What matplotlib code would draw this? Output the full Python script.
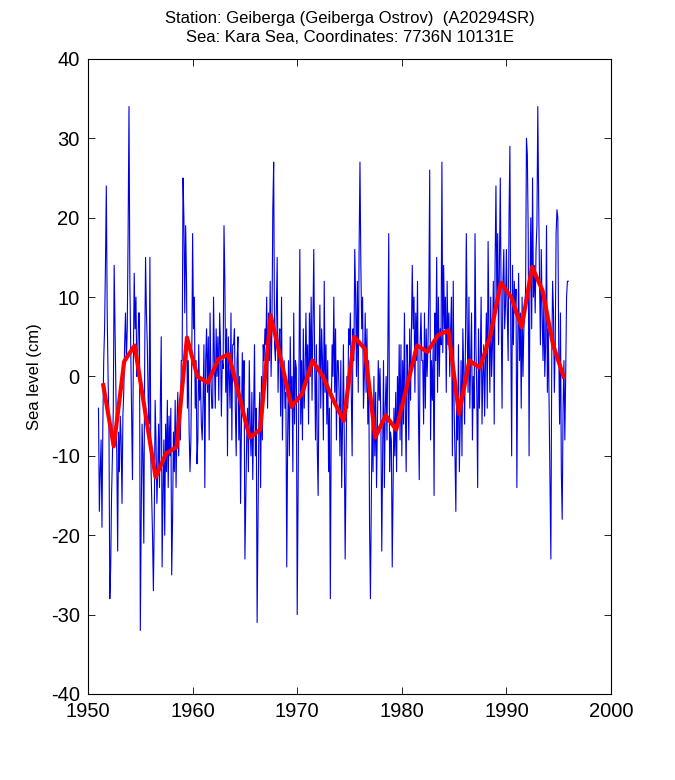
import numpy as np
import matplotlib
matplotlib.use("agg")
from matplotlib import pyplot as plt

plt.rcParams["font.family"] = ["Liberation Sans", "DejaVu Sans"]
plt.rcParams["axes.unicode_minus"] = False

BLUE = "#0000E6"
RED = "#FF0000"

TITLE = "Station: Geiberga (Geiberga Ostrov)  (A20294SR)\nSea: Kara Sea, Coordinates: 7736N 10131E"

years = list(range(1951, 1996))

# monthly sea level (cm), one row per year, Jan..Dec
monthly = [
    [-4, -17, -12, -8, -19, -6, 2, 6, 14, 24, 8, 0],            # 1951
    [-6, -28, -24, -15, -10, -4, 14, 6, -2, -10, -22, -7],      # 1952
    [-12, -5, -8, -16, -5, -2, 4, 8, 2, 6, 18, 34],             # 1953
    [12, 4, -4, -13, 2, 13, 6, 10, 0, 2, 8, 8],                 # 1954
    [-32, -18, -6, -10, -21, 2, 15, 8, 4, -3, -6, 15],          # 1955
    [-10, -15, -20, -27, -18, -3, -8, -16, -12, -6, -14, -3],   # 1956
    [5, -24, -15, -8, -20, -6, -12, -3, -14, -5, -10, -4],      # 1957
    [-25, -18, -7, -12, -3, -14, -6, -2, -10, -4, -8, 2],       # 1958
    [2, 25, 20, 8, 19, 12, -4, 2, -7, -12, -8, 2],              # 1959
    [18, 6, 10, -4, 2, -11, -8, 4, -3, 0, -6, -8],              # 1960
    [-3, 4, -14, 2, 6, -2, 5, -8, 8, 0, -4, -4],                # 1961
    [10, 2, -4, 6, 0, 5, -3, 8, 4, -5, 2, 1],                   # 1962
    [19, 12, -2, 6, -10, 5, 0, -4, 8, -8, 4, 4],                # 1963
    [6, -4, -10, 2, 5, -8, 0, -16, -6, 3, -4, 2],               # 1964
    [-23, -15, -8, -4, -12, 2, -6, -10, -2, -13, -5, 4],        # 1965
    [-10, -4, -31, -18, -6, -2, -14, 0, -8, 4, 2, 6],           # 1966
    [4, 10, -4, 8, 2, 12, 0, 6, 21, 27, 4, 2],                  # 1967
    [8, 15, -2, 4, 6, -5, 10, -8, 0, 2, -4, -2],                # 1968
    [-24, -8, 2, -10, 5, -4, 0, -12, 8, -6, 2, 1],              # 1969
    [-30, -14, 4, 16, -6, 2, -8, 6, -4, 0, 8, 0],               # 1970
    [4, -6, 8, 0, 10, -3, 6, 16, 2, -8, 4, -9],                 # 1971
    [-15, 0, 9, -4, 6, 2, -8, 12, -2, 4, -6, 2],                # 1972
    [-12, -4, -28, -6, 4, 0, 10, -2, 6, -8, 2, 2],              # 1973
    [-2, -10, 2, -14, -6, 4, -8, -23, -12, 0, -4, 6],           # 1974
    [4, 8, -2, -10, 6, 2, 16, 10, 0, 12, -2, 16],               # 1975
    [27, 14, 6, 10, -4, 0, 8, -2, 6, -6, 2, -19],               # 1976
    [-28, -16, -4, -12, 0, -10, -2, -14, -6, 2, -3, 1],         # 1977
    [-6, -22, -10, 2, -14, -4, 0, -8, 4, 18, -12, -7],          # 1978
    [-8, -24, -14, -4, -10, -2, -12, 0, -6, 4, -8, 4],          # 1979
    [-10, 2, -6, 8, -4, -12, 4, 0, -8, 6, -3, 6],               # 1980
    [14, 6, 10, -2, 8, 2, 12, -4, -13, 4, 8, 2],                # 1981
    [2, -6, 8, -4, 6, 0, 4, 10, 26, -8, 2, -3],                 # 1982
    [4, -15, 8, 2, 15, -2, 10, 0, 6, 4, 27, 3],                 # 1983
    [14, 6, 10, -2, 12, 4, 8, 0, 6, 10, -10, 12],               # 1984
    [-4, -10, -17, -2, -8, 4, -12, -6, 2, -10, 6, 1],           # 1985
    [-6, 4, 18, 6, -2, 10, -4, 2, 8, -8, 0, -4],                # 1986
    [18, 4, -2, -14, 6, -4, 2, 10, -6, 0, 4, -5],               # 1987
    [2, 8, -4, 17, 6, -2, 10, 0, 4, 12, -6, 14],                # 1988
    [24, 10, 18, 4, 14, 25, 8, -4, 12, 16, 6, 9],               # 1989
    [16, 8, 2, 20, 29, 6, -10, 14, 4, 12, 8, 11],               # 1990
    [-14, 4, 13, 2, 8, -4, 10, 0, 6, 8, 11, 30],                # 1991
    [28, 18, -10, 12, 20, 6, 25, 10, 14, 8, 16, 19],            # 1992
    [34, 22, 12, 4, 16, 8, 2, 10, 0, 4, 19, -2],                # 1993
    [6, -4, -14, -23, 2, 12, 8, -2, 4, 18, 21, 20],             # 1994
    [4, -6, 8, -12, -18, -4, 2, -8, 0, 10, 12, 12],             # 1995
]

# annual mean sea level (cm)
annual = [-1.1, -8.8, 1.9, 3.9, -4.4, -12.7, -9.7, -8.9, 4.9, 0.0,
          -0.8, 2.2, 2.8, -2.5, -7.7, -6.7, 7.7, 2.0, -3.8, -2.2,
          2.0, 0.0, -3.0, -5.6, 5.0, 3.5, -7.7, -4.9, -6.7, -1.4,
          3.9, 3.1, 5.2, 5.8, -4.7, 2.0, 1.1, 5.1, 11.8, 10.0,
          6.2, 13.8, 10.8, 4.0, 0.0]

# time axes
t_month = np.array([y + m / 12.0 for y in years for m in range(12)])
sea_month = np.array(monthly, dtype=float).ravel()
t_year = np.array(years) + 11 / 24.0

fig = plt.figure(figsize=(6.75, 7.8), dpi=100)
ax = fig.add_axes([0.1304, 0.1103, 0.7748, 0.8141])

ax.plot(t_month, sea_month, color=BLUE, lw=0.8)
ax.plot(t_year, annual, color=RED, lw=3.0)

ax.set_xlim(1950, 2000)
ax.set_ylim(-40, 40)
ax.set_xticks(np.arange(1950, 2001, 10))
ax.set_yticks(np.arange(-40, 41, 10))
ax.tick_params(direction="in", length=5, width=0.6, top=True, right=True,
               labelsize=14.5)
ax.tick_params(axis="x", pad=6)
ax.tick_params(axis="y", pad=6)
for sp in ax.spines.values():
    sp.set_linewidth(0.8)

ax.set_ylabel("Sea level (cm)", fontsize=12, labelpad=6)
ax.set_title(TITLE, fontsize=12, pad=12, linespacing=1.35)

plt.savefig("out.png", dpi=100)
